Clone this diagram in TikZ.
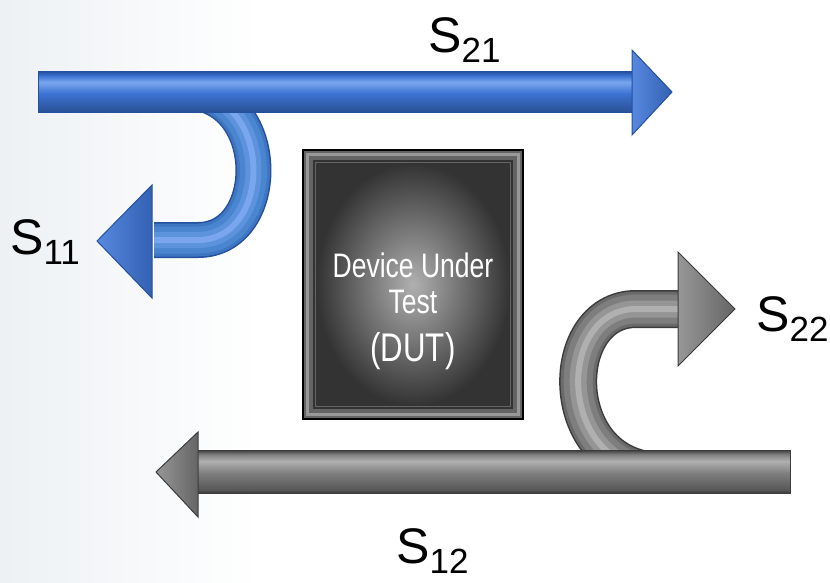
\documentclass[tikz,border=0pt]{standalone}
\usepackage{fontspec}
\setmainfont{Liberation Sans}
\newfontfamily\narrowfont[FakeStretch=0.78]{Liberation Sans}
\usepackage{tikz}
\usetikzlibrary{positioning,calc}

\definecolor{bluedark}{HTML}{24509E}
\definecolor{bluemid}{HTML}{3C72D2}
\definecolor{bluelight}{HTML}{79A6EE}
\definecolor{curvemid}{HTML}{4A86D0}
\definecolor{graydark}{HTML}{3C3C3C}
\definecolor{graymid}{HTML}{7E7E7E}
\definecolor{graylight}{HTML}{B0B0B0}
\definecolor{bgtint}{HTML}{EDF1F4}

\pgfdeclareverticalshading{shaftblueshade}{100bp}{color(0bp)=(bluedark); color(25bp)=(bluedark);
  color(29bp)=(bluemid!75!black); color(48bp)=(bluemid); color(62bp)=(bluelight); color(70bp)=(bluemid);
  color(75bp)=(bluedark); color(100bp)=(bluedark)}
\pgfdeclareverticalshading{shaftgrayshade}{100bp}{color(0bp)=(graydark); color(25bp)=(graydark);
  color(29bp)=(graymid!70!black); color(48bp)=(graymid); color(62bp)=(graylight); color(70bp)=(graymid);
  color(75bp)=(graydark); color(100bp)=(graydark)}

\newcommand{\sparam}[1]{S\raisebox{-10pt}{\fontsize{35}{35}\selectfont #1}}

\tikzset{
  slabel/.style={anchor=base west, inner sep=0pt, font=\fontsize{50}{50}\selectfont},
  tubeblue/.style={draw=bluedark, line width=36pt,
    postaction={draw=curvemid!70!bluedark, line width=33pt},
    postaction={draw=curvemid, line width=27pt},
    postaction={draw=curvemid!60!bluelight, line width=16pt},
    postaction={draw=bluelight, line width=6pt}},
  tubegray/.style={draw=graydark, line width=38pt,
    postaction={draw=graymid!70!graydark, line width=35pt},
    postaction={draw=graymid, line width=29pt},
    postaction={draw=graymid!55!graylight, line width=17pt},
    postaction={draw=graylight, line width=6pt}},
  shaftblue/.style={draw=bluedark, line width=1pt, shading=shaftblueshade},
  shaftgray/.style={draw=graydark, line width=1pt, shading=shaftgrayshade},
  headblue/.style={draw=bluedark, line width=1pt, left color=bluemid!55!bluelight, right color=bluemid!85!black},
  headgray/.style={draw=graydark, line width=1pt, left color=graymid!50!graylight, right color=graymid!80!black},
}

\begin{document}
\begin{tikzpicture}[x=1pt,y=-1pt]
\useasboundingbox (0,0) rectangle (830,582);
% background
\fill[white] (0,0) rectangle (830,582);
\shade[left color=bgtint, right color=white] (0,0) rectangle (260,582);

% reflection at port 1
\coordinate (s11a) at (185,92);
\coordinate (s11b) at (154,240);
\draw[tubeblue] (s11a) .. controls (274,92) and (274,240) .. (198,240) -- (s11b);
\shadedraw[headblue] (152,185) -- (97,241) -- (152,298) -- cycle;

% transmission 1 -> 2
\coordinate (s21a) at (38,92);
\coordinate (s21b) at (634,92);
\shadedraw[shaftblue] ($(s21a)+(0,-20.5)$) rectangle ($(s21b)+(0,20.5)$);
\shadedraw[headblue] (632,50) -- (672,92) -- (632,135) -- cycle;

% reflection at port 2
\coordinate (s22a) at (662,471);
\coordinate (s22b) at (680,309);
\draw[tubegray] (s22a) .. controls (555,471) and (555,309) .. (636,309) -- (s22b);
\shadedraw[headgray] (678,252) -- (735,309) -- (678,366) -- cycle;

% transmission 2 -> 1
\coordinate (s12a) at (790,471.5);
\coordinate (s12b) at (196,471.5);
\shadedraw[shaftgray] ($(s12b)+(0,-21.5)$) rectangle ($(s12a)+(0,21.5)$);
\shadedraw[headgray] (198,432) -- (156,472) -- (198,517) -- cycle;

% device
\node[draw=black, line width=1.5pt, fill=graymid!60!graydark, minimum width=220pt, minimum height=269pt, inner sep=0pt] (dutbox) at (413,284.5) {};
\draw[graymid!80!white, line width=3pt] ($(dutbox.north west)+(5,5)$) rectangle ($(dutbox.south east)+(-5,-5)$);
\draw[black!80, line width=2pt] ($(dutbox.north west)+(12,12)$) rectangle ($(dutbox.south east)+(-12,-12)$);
\shade[inner color=graylight, outer color=black!80] ($(dutbox.north west)+(14,14)$) rectangle ($(dutbox.south east)+(-14,-14)$);
\node[text=white, align=center, inner sep=0pt, font=\narrowfont\fontsize{34}{36}\selectfont] (dut) at (413,311)
  {Device Under\\Test\\[12pt]{\fontsize{40}{40}\selectfont (DUT)}};

% labels
\node[slabel] (l21) at (428,52) {\sparam{21}};
\node[slabel] (l11) at (10,254) {\sparam{11}};
\node[slabel] (l22) at (756,331) {\sparam{22}};
\node[slabel] (l12) at (396,563) {\sparam{12}};
\end{tikzpicture}
\end{document}
